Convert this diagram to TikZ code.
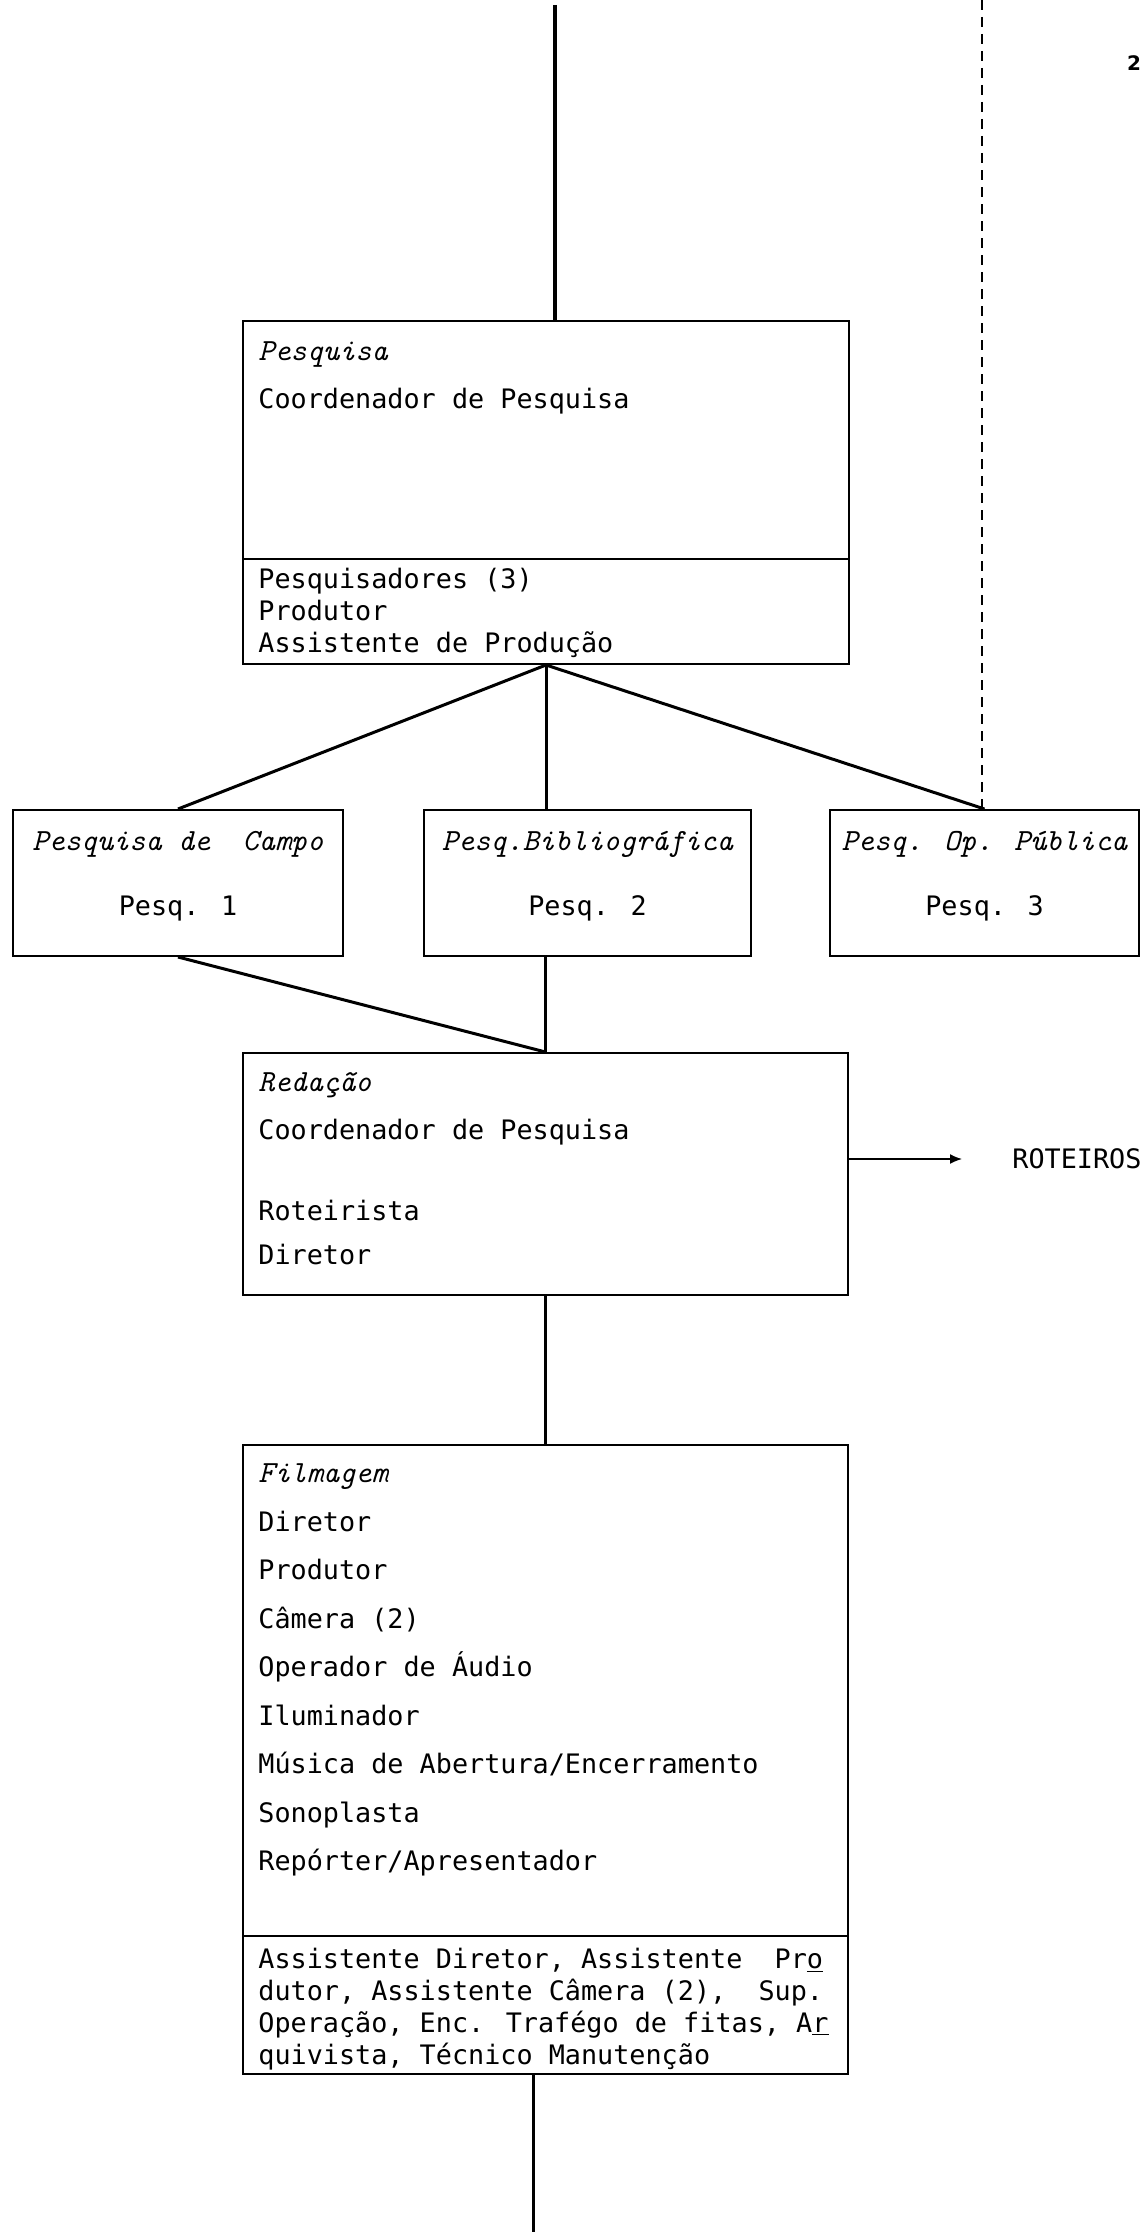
\documentclass[tikz,border=0pt]{standalone}
\usepackage{fontspec}
\setmainfont{DejaVu Sans Mono}
\newfontfamily\folhafont{DejaVu Sans}
\usetikzlibrary{arrows.meta}

\begin{document}
\begin{tikzpicture}[x=0.5pt, y=-0.5pt,
		caixa/.style={draw, line width=1pt, inner sep=0pt, anchor=north west},
		divisao/.style={line width=0.8pt},
		liga/.style={line width=1.5pt},
		tracejado/.style={line width=1pt, dash pattern=on 5pt off 3.5pt},
		seta/.style={line width=0.8pt, -{Latex[length=6pt,width=5pt]}},
		titulo/.style={anchor=base west, inner sep=0pt, font=\fontsize{15.4}{18}\ttfamily\itshape},
		nome/.style={anchor=base west, inner sep=0pt, font=\fontsize{13.4}{16}\selectfont}]
			\useasboundingbox (0,0) rectangle (1141,2232);

			% caixas
			\node[caixa, minimum width=303pt, minimum height=171.5pt] (pesq) at (242,320) {};
			\node[caixa, minimum width=165pt, minimum height=73pt] (campo) at (12,809) {};
			\node[caixa, minimum width=163.5pt, minimum height=73pt] (biblio) at (423,809) {};
			\node[caixa, minimum width=154.5pt, minimum height=73pt] (publica) at (829,809) {};
			\node[caixa, minimum width=302.5pt, minimum height=121pt] (redacao) at (242,1052) {};
			\node[caixa, minimum width=302.5pt, minimum height=314.5pt] (filmagem) at (242,1444) {};
			\draw[divisao] (pesq.west |- 0,559) -- (pesq.east |- 0,559);
			\draw[divisao] (filmagem.west |- 0,1936) -- (filmagem.east |- 0,1936);

			% Pesquisa
			\node[titulo] (pesqtit) at (258,360) {Pesquisa};
			\node[nome] (pesqcoord) at (258,408) {Coordenador de Pesquisa};
			\node[nome] (pesqa) at (258,588) {Pesquisadores (3)};
			\node[nome] (pesqb) at (258,620) {Produtor};
			\node[nome] (pesqc) at (258,652) {Assistente de Produção};

			% pesquisas
			\node[titulo, anchor=base] (campotit) at (campo.north |- 0,850) {Pesquisa de\ \ Campo};
			\node[nome, anchor=base] (campop) at (campo.north |- 0,915) {Pesq. 1};
			\node[titulo, anchor=base] (bibliotit) at (biblio.north |- 0,850) {Pesq.Bibliográfica};
			\node[nome, anchor=base] (bibliop) at (biblio.north |- 0,915) {Pesq. 2};
			\node[titulo, anchor=base] (publicatit) at (publica.north |- 0,850) {Pesq. Op. Pública};
			\node[nome, anchor=base] (publicap) at (publica.north |- 0,915) {Pesq. 3};

			% Redacao
			\node[titulo] (redtit) at (258,1091) {Redação};
			\node[nome] (redcoord) at (258,1139) {Coordenador de Pesquisa};
			\node[nome] (redrot) at (258,1220) {Roteirista};
			\node[nome] (reddir) at (258,1264) {Diretor};
			\node[nome, anchor=west] (roteiros) at (1012,1159) {ROTEIROS};

			% Filmagem
			\node[titulo] (filmtit) at (258,1482) {Filmagem};
			\foreach \txt [count=\i] in {Diretor, Produtor, Câmera (2), Operador de Áudio, Iluminador,
					Música de Abertura/Encerramento, Sonoplasta, Repórter/Apresentador}
				\node[nome] (film\i) at (258,{1531+48.5*(\i-1)}) {\txt};
			\foreach \txt [count=\i] in {{Assistente Diretor, Assistente\ \ Pr\underline{o}},
					{dutor, Assistente Câmera (2),\ \ Sup.},
					{Operação, Enc. Trafégo de fitas, A\underline{r}},
					{quivista, Técnico Manutenção}}
				\node[nome] (aux\i) at (258,{1968+32*(\i-1)}) {\txt};

			% ligacoes
			\coordinate (inicio) at (555,5);
			\coordinate (fork) at (pesq.south);
			\coordinate (topo) at (982,0);
			\coordinate (fim) at (533,2232);
			\draw[liga, line width=2pt] (inicio) -- (inicio |- pesq.north);
			\draw[tracejado] (topo) -- (topo |- publica.north);
			\draw[liga] (fork) -- (campo.north);
			\draw[liga] (fork) -- (biblio.north -| fork);
			\draw[liga] (fork) -- (publica.north);
			\draw[liga] (campo.south) -- (redacao.north);
			\draw[liga] (biblio.south -| redacao.north) -- (redacao.north);
			\draw[liga] (redacao.south) -- (filmagem.north);
			\draw[liga] (filmagem.south -| fim) -- (fim);
			\draw[seta] (redacao.east |- roteiros.west) -- ([xshift=-25pt]roteiros.west);

			\node[font=\fontsize{10}{12}\folhafont\bfseries] (folha) at (1134,63) {2};
		\end{tikzpicture}
\end{document}
